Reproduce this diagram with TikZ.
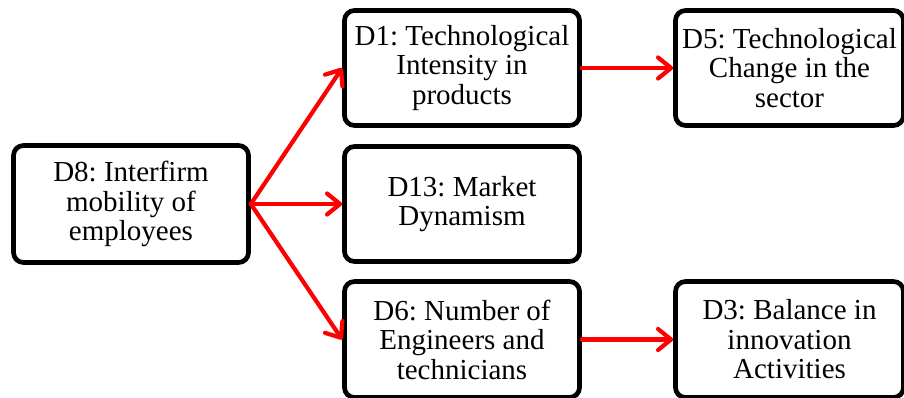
\documentclass[tikz,border=0pt]{standalone}
\usepackage{fontspec}
\setmainfont{Liberation Serif}
\usetikzlibrary{arrows.meta}
\frenchspacing
\begin{document}
\begin{tikzpicture}[x=1pt,y=1pt,
  dbox/.style={draw=black, line width=4.7pt, rounded corners=10pt, fill=white,
    align=center, inner sep=0pt, font=\frenchspacing\fontsize{29}{29.5}\selectfont,
    minimum height=115pt},
  link/.style={draw=red, line width=4.2pt, line cap=round, line join=round,
    -{Straight Barb[length=13pt,width=21pt,line cap=round,line join=round]}}]
\useasboundingbox (0,0) rectangle (904,-398);
\node[dbox, minimum width=235pt, minimum height=117pt] (d8) at (131,-204) {D8: Interfirm\\mobility of\\employees};
\node[dbox, minimum width=235pt] (d1) at (462,-68) {D1: Technological\\Intensity in\\products};
\node[dbox, minimum width=235pt] (d13) at (462,-204) {D13: Market\\Dynamism};
\node[dbox, minimum width=235pt, minimum height=116pt] (d6) at (462,-339.5) {D6: Number of\\Engineers and\\technicians};
\node[dbox, minimum width=228pt] (d5) at (789.5,-68) {D5: Technological\\Change in the\\sector};
\node[dbox, minimum width=228pt, minimum height=116pt] (d3) at (789.5,-339.5) {D3: Balance in\\innovation\\Activities};
\draw[link] (d8.east) -- (d1.west);
\draw[link] (d8.east) -- (d13.west);
\draw[link] (d8.east) -- (d6.west);
\draw[link] (d1.east) -- (d5.west);
\draw[link] (d6.east) -- (d3.west);
\end{tikzpicture}
\end{document}
